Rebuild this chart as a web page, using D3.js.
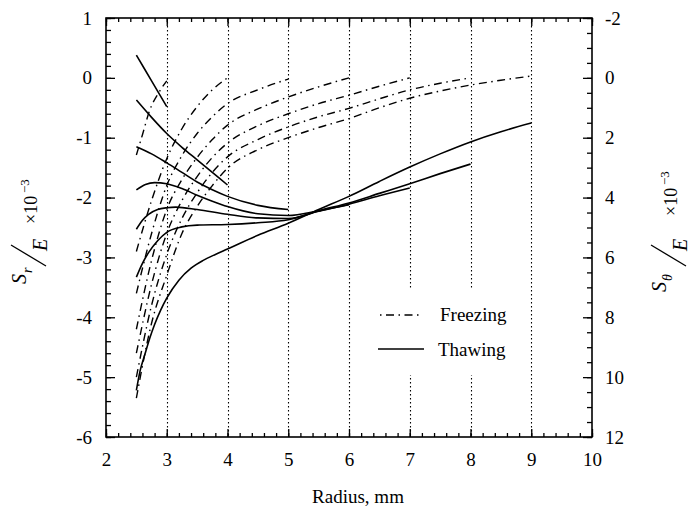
<!DOCTYPE html>
<html>
<head>
<meta charset="UTF-8">
<script src="https://d3js.org/d3.v7.min.js"></script>
<style>
  body { margin: 0; background: #fff; }
  svg { display: block; }
  svg text { font-family: "Liberation Serif", "Times New Roman", serif; }
</style>
</head>
<body>
<div id="chart"></div>
<script>
// tick labels
const radiusTicks = [2, 3, 4, 5, 6, 7, 8, 9, 10];
const srTicks = [-6, -5, -4, -3, -2, -1, 0, 1];
const sthetaTicks = [-2, 0, 2, 4, 6, 8, 10, 12];
// outer radii marked with dotted lines
const outerRadii = [3, 4, 5, 6, 7, 8, 9];

// thawing curves (solid), [radius, Sr/E]
const thaw3 = [[2.5, 0.38], [2.75, -0.05], [3, -0.48]];
const thaw4 = [[2.5, -0.37], [2.75, -0.66], [3, -0.93], [3.25, -1.16], [3.5, -1.37], [3.75, -1.58], [4, -1.79]];
const thaw5 = [[2.5, -1.15], [2.75, -1.27], [3, -1.42], [3.25, -1.58], [3.5, -1.74], [3.75, -1.87], [4, -1.98], [4.5, -2.13], [5, -2.2]];
const thaw6 = [[2.5, -1.87], [2.65, -1.78], [2.8, -1.75], [3, -1.77], [3.25, -1.85], [3.5, -1.96], [3.75, -2.06], [4, -2.15], [4.5, -2.27], [5, -2.3], [5.5, -2.22], [6, -2.12]];
const thaw7 = [[2.5, -2.53], [2.6, -2.38], [2.7, -2.28], [2.85, -2.2], [3, -2.17], [3.15, -2.16], [3.5, -2.2], [4, -2.28], [4.5, -2.34], [5, -2.35], [5.5, -2.23], [6, -2.11], [6.5, -1.97], [7, -1.84]];
const thaw8 = [[2.5, -3.33], [2.6, -3.1], [2.7, -2.92], [2.85, -2.72], [3, -2.58], [3.25, -2.49], [3.5, -2.46], [4, -2.45], [4.5, -2.42], [5, -2.37], [5.5, -2.22], [6, -2.09], [6.5, -1.93], [7, -1.77], [7.5, -1.6], [8, -1.44]];
const thaw9 = [[2.5, -5.22], [2.56, -4.9], [2.64, -4.62], [2.72, -4.35], [2.8, -4.12], [2.9, -3.88], [3, -3.68], [3.2, -3.38], [3.4, -3.18], [3.6, -3.05], [3.8, -2.95], [4, -2.86], [4.5, -2.63], [5, -2.43], [5.5, -2.2], [6, -1.98], [6.5, -1.73], [7, -1.49], [7.5, -1.27], [8, -1.07], [8.5, -0.9], [9, -0.755]];

// freezing curves (dash-dot)
const freeze3 = [[2.5, -1.29], [2.6, -0.95], [2.72, -0.54], [2.86, -0.26], [3, -0.05]];
const freeze4 = [[2.5, -2.9], [2.75, -2.05], [3, -1.35], [3.25, -0.85], [3.5, -0.48], [3.75, -0.2], [4, 0]];
const freeze5 = [[2.5, -3.6], [2.75, -2.6], [3, -1.8], [3.25, -1.3], [3.5, -0.93], [3.75, -0.65], [4, -0.43], [4.5, -0.2], [5, -0.02]];
const freeze6 = [[2.5, -4.2], [2.75, -3.05], [3, -2.2], [3.25, -1.7], [3.5, -1.33], [3.75, -1.03], [4, -0.79], [4.5, -0.52], [5, -0.32], [5.5, -0.15], [6, 0]];
const freeze7 = [[2.5, -4.6], [2.75, -3.45], [3, -2.6], [3.25, -2.05], [3.5, -1.65], [3.75, -1.33], [4, -1.09], [4.5, -0.8], [5, -0.6], [5.5, -0.43], [6, -0.29], [6.5, -0.14], [7, 0]];
const freeze8 = [[2.5, -5.0], [2.75, -3.8], [3, -2.95], [3.25, -2.35], [3.5, -1.92], [3.75, -1.58], [4, -1.32], [4.5, -1.03], [5, -0.82], [5.5, -0.65], [6, -0.51], [6.5, -0.35], [7, -0.2], [7.5, -0.09], [8, 0]];
const freeze9 = [[2.5, -5.35], [2.75, -4.1], [3, -3.3], [3.25, -2.6], [3.5, -2.15], [3.75, -1.8], [4, -1.51], [4.5, -1.2], [5, -1.0], [5.5, -0.83], [6, -0.68], [6.5, -0.5], [7, -0.34], [7.5, -0.22], [8, -0.12], [8.5, -0.04], [9, 0.03]];

const thawing = [thaw3, thaw4, thaw5, thaw6, thaw7, thaw8, thaw9];
const freezing = [freeze3, freeze4, freeze5, freeze6, freeze7, freeze8, freeze9];

const W = 699, H = 509;
const mLeft = 106, mRight = 592, mTop = 18, mBottom = 437;
const serif = "Liberation Serif, Times New Roman, serif";

const x = d3.scaleLinear().domain([2, 10]).range([mLeft, mRight]);
const y = d3.scaleLinear().domain([-6, 1]).range([mBottom, mTop]);
const y2 = d3.scaleLinear().domain([12, -2]).range([mBottom, mTop]);

const svg = d3.select("#chart").append("svg")
  .attr("width", W)
  .attr("height", H)
  .attr("font-family", serif);

// dotted lines at each outer radius
svg.append("g").selectAll("line")
  .data(outerRadii)
  .join("line")
  .attr("x1", d => Math.round(x(d)) + 0.5).attr("x2", d => Math.round(x(d)) + 0.5)
  .attr("y1", mTop).attr("y2", mBottom)
  .attr("stroke", "#000")
  .attr("stroke-width", 1.1)
  .attr("stroke-dasharray", "1.6,2.4");

// legend background breaks the dotted lines
svg.append("rect")
  .attr("x", 372).attr("y", 289)
  .attr("width", 148).attr("height", 86)
  .attr("fill", "#fff");

const line = d3.line()
  .x(d => x(d[0]))
  .y(d => y(d[1]))
  .curve(d3.curveMonotoneX);

svg.append("g").selectAll("path")
  .data(freezing)
  .join("path")
  .attr("d", line)
  .attr("fill", "none")
  .attr("stroke", "#000")
  .attr("stroke-width", 1.4)
  .attr("stroke-dasharray", "8,4.5,1.5,4.5");

svg.append("g").selectAll("path")
  .data(thawing)
  .join("path")
  .attr("d", line)
  .attr("fill", "none")
  .attr("stroke", "#000")
  .attr("stroke-width", 1.6);

// axes, ticks pointing inward
const minorX = d3.range(2, 10.001, 0.2);
const minorY = d3.range(-6, 1.001, 0.2);
const minorY2 = d3.range(-2, 12.001, 0.5);

function styleAxis(g) {
  g.select(".domain").remove();
  g.selectAll("line").attr("stroke", "#000").attr("stroke-width", 1.3);
  g.attr("font-family", serif).attr("font-size", 19);
  g.selectAll("text").attr("fill", "#000").attr("font-family", serif);
}

svg.append("g").attr("transform", `translate(0,${mBottom})`)
  .call(d3.axisBottom(x).tickValues(minorX).tickSize(-4).tickFormat(""))
  .call(styleAxis);
svg.append("g").attr("transform", `translate(0,${mBottom})`)
  .call(d3.axisBottom(x).tickValues(radiusTicks).tickSize(-8).tickPadding(16))
  .call(styleAxis);

svg.append("g").attr("transform", `translate(0,${mTop})`)
  .call(d3.axisTop(x).tickValues(minorX).tickSize(-4).tickFormat(""))
  .call(styleAxis);
svg.append("g").attr("transform", `translate(0,${mTop})`)
  .call(d3.axisTop(x).tickValues(radiusTicks).tickSize(-8).tickFormat(""))
  .call(styleAxis);

svg.append("g").attr("transform", `translate(${mLeft},0)`)
  .call(d3.axisLeft(y).tickValues(minorY).tickSize(-5).tickFormat(""))
  .call(styleAxis);
svg.append("g").attr("transform", `translate(${mLeft},0)`)
  .call(d3.axisLeft(y).tickValues(srTicks).tickSize(-9).tickPadding(14).tickFormat(d3.format("d")))
  .call(styleAxis);

svg.append("g").attr("transform", `translate(${mRight},0)`)
  .call(d3.axisRight(y2).tickValues(minorY2).tickSize(-5).tickFormat(""))
  .call(styleAxis);
svg.append("g").attr("transform", `translate(${mRight},0)`)
  .call(d3.axisRight(y2).tickValues(sthetaTicks).tickSize(-9).tickPadding(13).tickFormat(d3.format("d")))
  .call(styleAxis);

// use plain hyphen for negatives like the original
svg.selectAll(".tick text").text(function() { return this.textContent.replace("\u2212", "-"); });

// frame
svg.append("rect")
  .attr("x", mLeft).attr("y", mTop)
  .attr("width", mRight - mLeft).attr("height", mBottom - mTop)
  .attr("fill", "none")
  .attr("stroke", "#000")
  .attr("stroke-width", 1.6);

// x axis title
svg.append("text")
  .attr("x", 358).attr("y", 503)
  .attr("text-anchor", "middle")
  .attr("font-size", 19)
  .text("Radius, mm");

// rotated y titles: S/E x10^-3
function yTitle(tx, ty, sub, eAt, xAt) {
  const g = svg.append("g").attr("transform", `translate(${tx},${ty}) rotate(-90)`);
  g.append("text").attr("x", 0).attr("y", -11)
    .attr("font-size", 20).attr("font-style", "italic").text("S");
  g.append("text").attr("x", 11).attr("y", -5)
    .attr("font-size", 14).attr("font-style", "italic").text(sub);
  g.append("line")
    .attr("x1", eAt - 15).attr("y1", 9)
    .attr("x2", eAt + 6).attr("y2", -26)
    .attr("stroke", "#000").attr("stroke-width", 1.3);
  g.append("text").attr("x", eAt).attr("y", 10)
    .attr("font-size", 20).attr("font-style", "italic").text("E");
  g.append("text").attr("x", xAt).attr("y", 0)
    .attr("font-size", 18).text("\u00d710");
  g.append("text").attr("x", xAt + 31).attr("y", -8)
    .attr("font-size", 13).text("\u22123");
}
yTitle(37, 284, "r", 33, 60);
yTitle(677, 292, "\u03b8", 41, 76);

// legend
const legend = svg.append("g");
legend.append("line")
  .attr("x1", 380).attr("x2", 423).attr("y1", 315).attr("y2", 315)
  .attr("stroke", "#000").attr("stroke-width", 1.4)
  .attr("stroke-dasharray", "1.5,4.5,8,4.5");
legend.append("line")
  .attr("x1", 378).attr("x2", 424).attr("y1", 349).attr("y2", 349)
  .attr("stroke", "#000").attr("stroke-width", 1.6);
legend.append("text").attr("x", 440).attr("y", 321)
  .attr("font-size", 19).text("Freezing");
legend.append("text").attr("x", 438).attr("y", 356)
  .attr("font-size", 19).text("Thawing");
</script>
</body>
</html>
